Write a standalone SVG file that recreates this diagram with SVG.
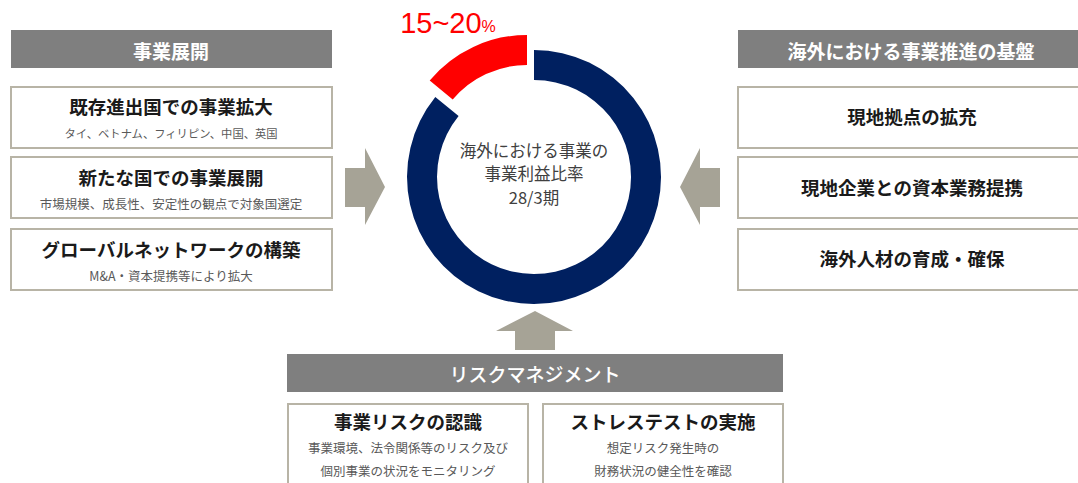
<svg xmlns="http://www.w3.org/2000/svg" width="1078" height="483" viewBox="0 0 1078 483">
<style>
text{font-family:"Noto Sans CJK JP","Noto Sans",sans-serif;text-anchor:middle;dominant-baseline:central}
.hdr{fill:#7f7f7f}
.hdrt{fill:#ffffff;font-size:19px;font-weight:bold}
.box{fill:#ffffff;stroke:#b8b4a6;stroke-width:2}
.ttl{fill:#1a1a1a;font-size:18.5px;font-weight:bold}
.sub{fill:#595959;font-size:12.5px}
.arr{fill:#a6a396}
.ctr{fill:#404040;font-size:16.5px}
</style>
<g id="connectors">
<path class="arr" d="M345,168 H365 V148 L385,187 L365,225 V207 H345 Z"/>
<path class="arr" d="M720,168 H700 V148 L680,187 L700,225 V207 H720 Z"/>
<path class="arr" d="M515,350 V331 H496 L535,311 L573,331 H555 V350 Z"/>
</g>
<g id="header-left">
<rect class="hdr" x="11" y="30" width="321" height="38"/>
<text class="hdrt" x="171" y="50">事業展開</text>
</g>
<g id="box-left-1">
<rect class="box" x="11" y="87" width="321" height="61"/>
<text class="ttl" x="171" y="106">既存進出国での事業拡大</text>
<text class="sub" x="171" y="133" style="font-size:11.3px">タイ、ベトナム、フィリピン、中国、英国</text>
</g>
<g id="box-left-2">
<rect class="box" x="11" y="157" width="321" height="61"/>
<text class="ttl" x="171" y="177">新たな国での事業展開</text>
<text class="sub" x="171" y="203">市場規模、成長性、安定性の観点で対象国選定</text>
</g>
<g id="box-left-3">
<rect class="box" x="11" y="229" width="321" height="61"/>
<text class="ttl" x="171" y="249">グローバルネットワークの構築</text>
<text class="sub" x="171" y="275">M&amp;A・資本提携等により拡大</text>
</g>
<g id="donut">
<path fill="#002060" d="M534,50 A127,127 0 1 1 435.3,97.1 L458.6,116 A97,97 0 1 0 534,80 Z"/>
<path fill="#ff0000" d="M527,35 A127,127 0 0 0 429.7,80.4 L452.7,99.6 A97,97 0 0 1 527,65 Z"/>
<text x="448" y="23" fill="#ff0000" style="font-family:'Liberation Sans','Noto Sans',sans-serif;font-size:29px;dominant-baseline:central">15~20<tspan style="font-size:16px" dy="3">%</tspan></text>
<text class="ctr" x="534" y="150">海外における事業の</text>
<text class="ctr" x="534" y="173">事業利益比率</text>
<text class="ctr" x="534" y="197">28/3期</text>
</g>
<g id="header-right">
<rect class="hdr" x="738" y="30" width="345" height="38"/>
<text class="hdrt" x="911" y="50">海外における事業推進の基盤</text>
</g>
<g id="box-right-1">
<rect class="box" x="738" y="87" width="345" height="61"/>
<text class="ttl" x="912" y="116">現地拠点の拡充</text>
</g>
<g id="box-right-2">
<rect class="box" x="738" y="157" width="345" height="61"/>
<text class="ttl" x="912" y="187">現地企業との資本業務提携</text>
</g>
<g id="box-right-3">
<rect class="box" x="738" y="229" width="345" height="61"/>
<text class="ttl" x="912" y="258">海外人材の育成・確保</text>
</g>
<g id="header-risk">
<rect class="hdr" x="287" y="354" width="496" height="38"/>
<text class="hdrt" x="535" y="373" style="font-weight:500">リスクマネジメント</text>
</g>
<g id="box-risk-1">
<rect class="box" x="288" y="404" width="240" height="90"/>
<text class="ttl" x="408" y="421">事業リスクの認識</text>
<text class="sub" x="408" y="447">事業環境、法令関係等のリスク及び</text>
<text class="sub" x="408" y="470">個別事業の状況をモニタリング</text>
</g>
<g id="box-risk-2">
<rect class="box" x="543" y="404" width="240" height="90"/>
<text class="ttl" x="663" y="421">ストレステストの実施</text>
<text class="sub" x="663" y="447">想定リスク発生時の</text>
<text class="sub" x="663" y="470">財務状況の健全性を確認</text>
</g>
</svg>
